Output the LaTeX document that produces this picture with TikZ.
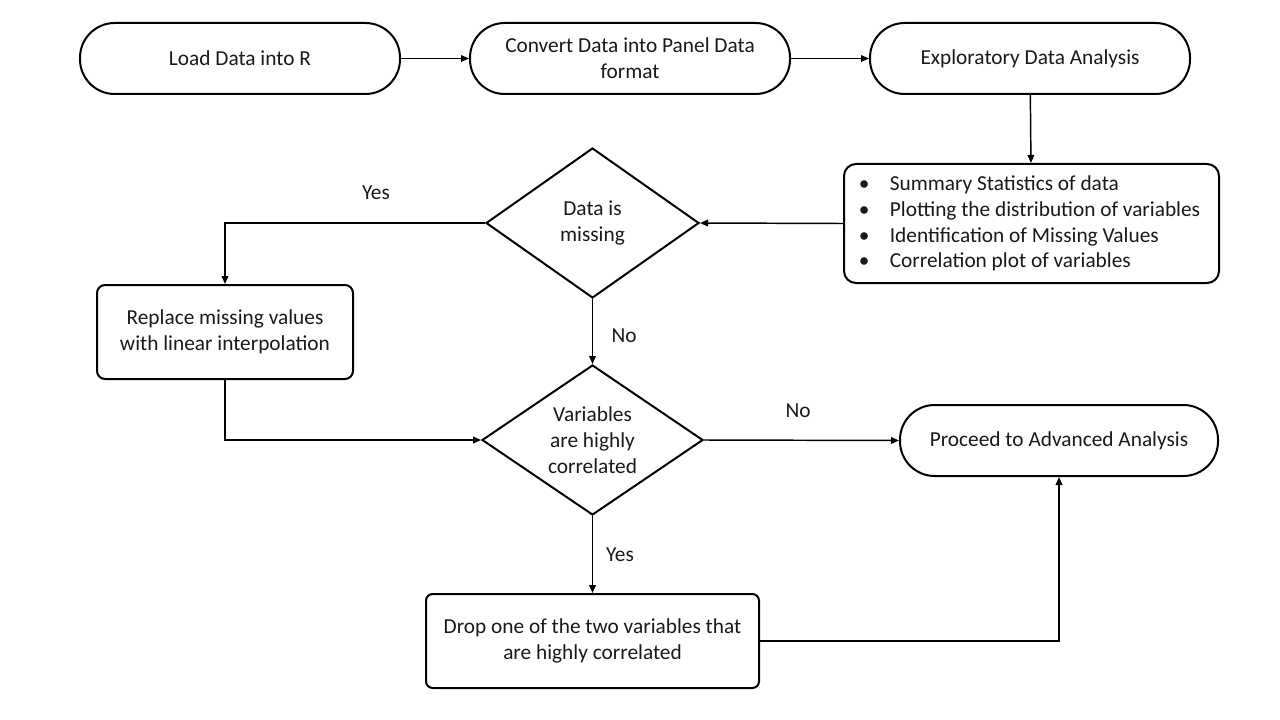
\documentclass[tikz,border=0pt]{standalone}
\usepackage{fontspec}
\setmainfont{Carlito}
\usetikzlibrary{arrows.meta,shapes.geometric}
\begin{document}
\begin{tikzpicture}[x=0.75pt,y=-0.75pt,
  every node/.style={font=\fontsize{16}{19.4}\selectfont, text=black!90},
  stad/.style={draw, line width=1.5pt, rounded corners=26pt, minimum width=240pt, minimum height=53.25pt, align=center, inner sep=0pt},
  boxr/.style={draw, line width=1.5pt, rounded corners=6pt, align=center, inner sep=0pt},
  dia/.style={draw, diamond, line width=1.5pt, inner sep=0pt, align=center},
  conn/.style={line width=1.1pt, -{Triangle[length=6pt,width=5pt]}},
  lbl/.style={inner sep=0pt}]
\useasboundingbox (0,0) rectangle (1280,720);
\node[stad] (load) at (240,58.5) {Load Data into R};
\node[stad] (conv) at (630,58.5) {Convert Data into Panel Data\\format};
\node[stad] (eda) at (1030,58.5) {Exploratory Data Analysis};
\node[boxr, rounded corners=9pt, minimum width=281.25pt, minimum height=89.25pt, align=left] (stats) at (1031.5,223.5)
  {\hbox to 20.25pt{\hskip-3pt\textbullet\hfil}Summary Statistics of data\\
   \hbox to 20.25pt{\hskip-3pt\textbullet\hfil}Plotting the distribution of variables\\
   \hbox to 20.25pt{\hskip-3pt\textbullet\hfil}Identification of Missing Values\\
   \hbox to 20.25pt{\hskip-3pt\textbullet\hfil}Correlation plot of variables};
\node[dia, aspect=1.42, minimum width=159.75pt, minimum height=112.5pt] (miss) at (592.5,223) {Data is\\missing};
\node[boxr, minimum width=192pt, minimum height=70.5pt] (repl) at (225,332) {Replace missing values\\with linear interpolation};
\node[dia, aspect=1.47, minimum width=165.75pt, minimum height=112.5pt] (corr) at (592.5,440) {Variables\\are highly\\correlated};
\node[stad, minimum width=238.5pt] (adv) at (1059,440.5) {Proceed to Advanced Analysis};
\node[boxr, rounded corners=5pt, minimum width=249.75pt, minimum height=70.5pt] (drop) at (592.5,641) {Drop one of the two variables that\\are highly correlated};
\draw[conn] (load) -- (conv);
\draw[conn] (conv) -- (eda);
\draw[conn] (eda) -- (stats);
\draw[conn] (stats.west) -- (miss.east);
\draw[conn] (miss.west) -| (repl.north);
\draw[conn] (miss.south) -- (corr.north);
\draw[conn] (repl.south) |- (corr.west);
\draw[conn] (corr.east) -- (adv.west);
\draw[conn] (corr.south) -- (drop.north);
\draw[conn] (drop.east) -| (adv.south);
\node[lbl] (y1) at (376,193) {Yes};
\node[lbl] (n1) at (624,336) {No};
\node[lbl] (n2) at (798,411) {No};
\node[lbl] (y2) at (620,555) {Yes};
\end{tikzpicture}
\end{document}
